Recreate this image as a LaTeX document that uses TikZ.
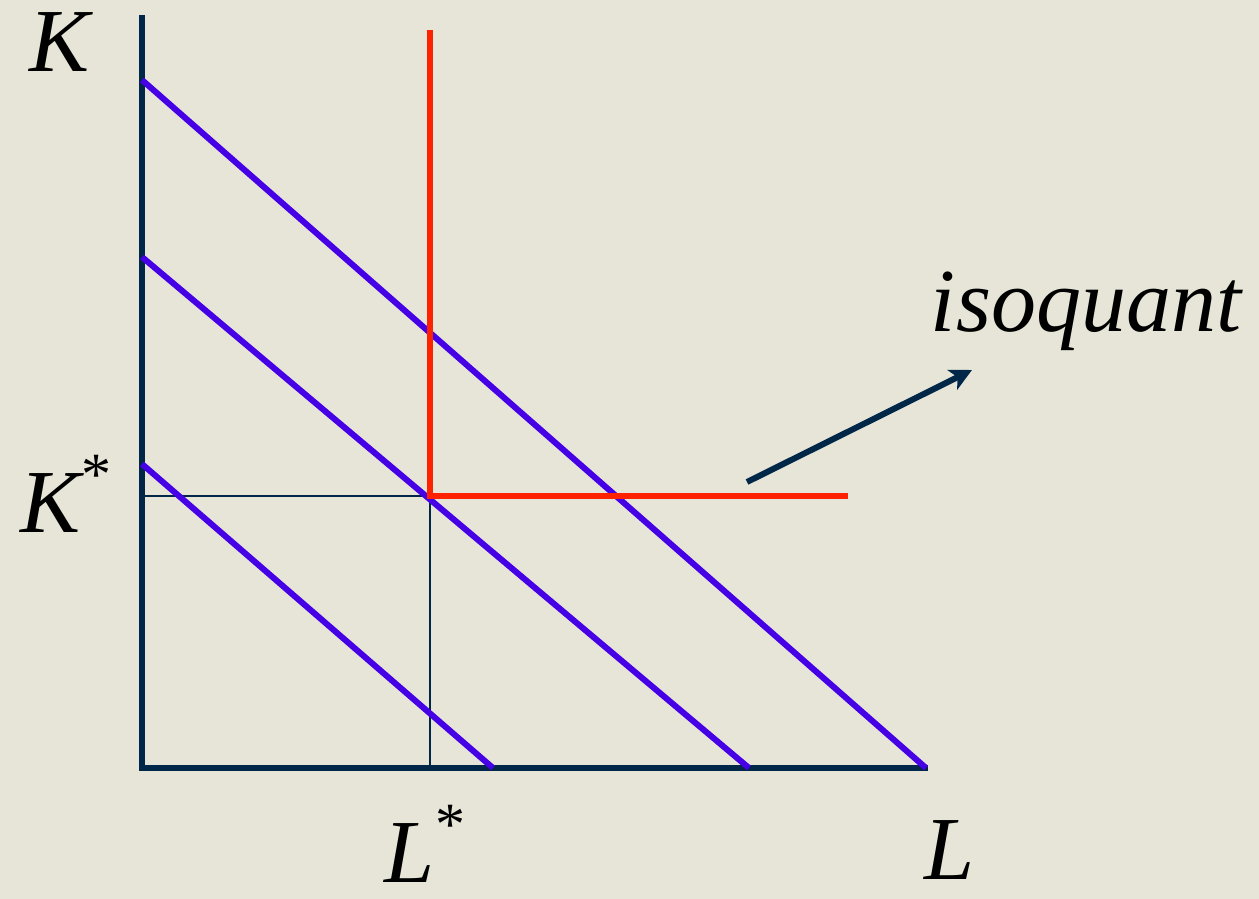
\documentclass[tikz,border=0pt]{standalone}
\usepackage{fontspec}
\setmainfont{Liberation Serif}[ItalicFont={Liberation Serif Italic}]
\usetikzlibrary{arrows.meta}
\definecolor{bg}{RGB}{230,229,215}
\definecolor{axisc}{RGB}{0,38,72}
\definecolor{budget}{RGB}{70,0,230}
\definecolor{isoq}{RGB}{255,34,0}
\newcommand{\upstar}{\raisebox{0.42em}{\upshape\fontsize{30}{30}\selectfont *}}
\tikzset{
  axisline/.style={draw=axisc,line width=3pt},
  guide/.style={draw=axisc,line width=0.8pt},
  costline/.style={draw=budget,line width=3pt},
  isoline/.style={draw=isoq,line width=3pt},
  pointer/.style={draw=axisc,line width=3pt,-{Stealth[length=11pt,width=11pt,inset=3pt]}},
  lbl/.style={font=\fontsize{45}{54}\selectfont\itshape,anchor=base,inner sep=0pt,text=black}
}
\begin{document}
\begin{tikzpicture}[x=0.5pt,y=-0.5pt]
\fill[bg] (0,0) rectangle (1259,899);
\useasboundingbox (0,0) rectangle (1259,899);
% axes
\coordinate (ytop) at (142,15);
\coordinate (O) at (142,768);
\coordinate (xend) at (928,768);
\draw[axisline] (ytop) -- (O) -- (xend);
% equilibrium point and guides
\coordinate (E) at (430,496);
\coordinate (Ky) at (142,496);
\coordinate (Lx) at (430,768);
\draw[guide] (Ky) -- (E) -- (Lx);
% isocost lines
\coordinate (a1) at (142,80);  \coordinate (b1) at (926,768);
\coordinate (a2) at (142,257); \coordinate (b2) at (749,768);
\coordinate (a3) at (142,464); \coordinate (b3) at (493,768);
\draw[costline] (a1) -- (b1);
\draw[costline] (a2) -- (b2);
\draw[costline] (a3) -- (b3);
% isoquant (L-shaped)
\coordinate (itop) at (430,30);
\coordinate (iright) at (848,496);
\draw[isoline] (itop) -- (E) -- (iright);
% labels
\node[lbl] (K) at (60,72) {K};
\node[lbl] (Kstar) at (66,532) {K\upstar};
\node[lbl] (Lstar) at (425,882) {L\upstar};
\node[lbl] (L) at (950,879) {L};
\node[lbl] (iso) at (1086,331) {isoquant};
% pointer
\coordinate (ps) at (747,482);
\coordinate (pe) at (972,370);
\draw[pointer] (ps) -- (pe);
\end{tikzpicture}
\end{document}
